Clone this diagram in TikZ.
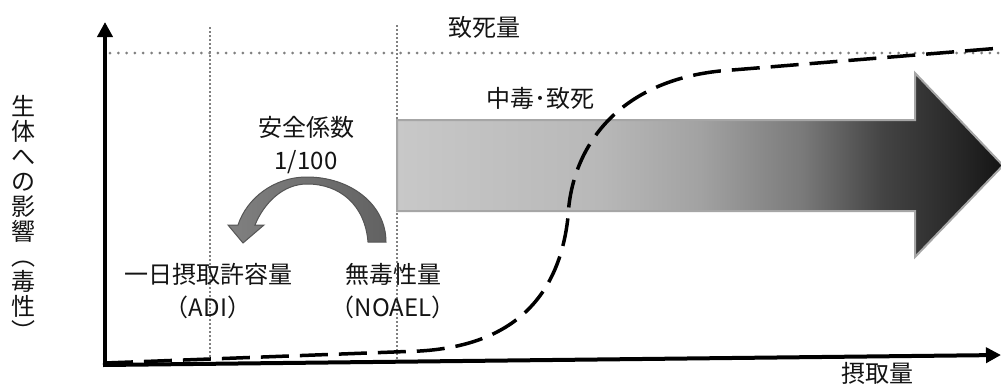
\documentclass[tikz,border=0pt]{standalone}
\usepackage{fontspec}
\setmainfont{Noto Sans CJK JP}
\usetikzlibrary{arrows.meta}
\definecolor{c0}{HTML}{C8C8C8}
\definecolor{c1}{HTML}{B8B8B8}
\definecolor{c2}{HTML}{A2A2A2}
\definecolor{c3}{HTML}{7A7A7A}
\definecolor{c4}{HTML}{444444}
\definecolor{c5}{HTML}{262626}
\definecolor{c6}{HTML}{141414}
\definecolor{dotgray}{HTML}{808080}
\definecolor{bordergray}{HTML}{A6A6A6}
\definecolor{arrL}{HTML}{808080}
\definecolor{arrR}{HTML}{626262}
\definecolor{arrD}{HTML}{555555}
\pgfdeclarehorizontalshading{bigarrowshade}{100bp}{color(0bp)=(c0); color(25bp)=(c0); color(41.8bp)=(c1); color(50bp)=(c2); color(58.4bp)=(c3); color(65bp)=(c4); color(71.6bp)=(c5); color(75bp)=(c6); color(100bp)=(c6)}
\tikzset{
  lbl/.style={font=\fontsize{24}{33}\selectfont, inner sep=0pt, align=center, text=black!92},
  vdots/.style={draw=dotgray, line width=1.6pt, dash pattern=on 1.6pt off 2.4pt},
  hdots/.style={draw=dotgray, line width=3pt, dash pattern=on 0pt off 8.3pt, line cap=round},
  axisline/.style={line width=4pt, -{Triangle[length=15pt,width=15pt]}},
  curve/.style={line width=3.5pt, dash pattern=on 28pt off 11pt},
  bigarrow/.style={draw=bordergray, line width=2pt, shading=bigarrowshade},
  bendarrow/.style={draw=arrD, line width=1pt, left color=arrL, right color=arrR},
}
\begin{document}
\begin{tikzpicture}[x=1pt, y=-1pt]
\clip (0,0) rectangle (1001,383);
\fill[white] (0,0) rectangle (1001,383);
% coordinates
\coordinate (o) at (105,365);
\coordinate (ytip) at (105,22);
\coordinate (xstart) at (103,365);
\coordinate (xtip) at (1001,355);
\coordinate (adiTop) at (210,27);
\coordinate (adiBot) at (210,362);
\coordinate (noaelTop) at (397,25);
\coordinate (noaelBot) at (397,362);
\coordinate (lethL) at (110,53);
\coordinate (lethR) at (1001,53);
% dotted guide lines
\draw[vdots] (adiTop) -- (adiBot);
\draw[vdots] (noaelTop) -- (noaelBot);
\draw[hdots] (lethL) -- (lethR);
% big gradient arrow
\path[bigarrow] (397,120) -- (915,120) -- (915,73) -- (1003,165.5) -- (915,257) -- (915,211) -- (397,211) -- cycle;
% bent arrow (safety factor)
\path[bendarrow] (386,242) .. controls (386,204) and (350,177) .. (307,177)
  .. controls (274,177) and (247,198) .. (238,225) -- (228,225) -- (243,243) -- (264,225) -- (255,225)
  .. controls (264,203) and (283,184) .. (307,184)
  .. controls (340,184) and (365,205) .. (368,242) -- cycle;
% dose-response curve
\coordinate (c0p) at (105,363);
\coordinate (c1p) at (420,351);
\coordinate (c2p) at (568,217);
\coordinate (c3p) at (720,71);
\coordinate (c4p) at (1001,48);
\draw[curve] (c0p) -- (c1p) .. controls (520,345) and (560,290) .. (c2p)
  .. controls (571,150) and (615,82) .. (c3p) -- (c4p);
% axes
\draw[axisline] (o) -- (ytip);
\draw[axisline] (xstart) -- (xtip);
% labels
\node[lbl] (lethal) at (484,27) {致死量};
\node[lbl] (toxic) at (540,98) {中毒･致死};
\node[lbl] (sf) at (306,145) {安全係数\\1/100};
\node[lbl] (adi) at (208,291.5) {一日摂取許容量\\（ADI）};
\node[lbl] (noael) at (393,291.5) {無毒性量\\（NOAEL）};
\node[lbl] (xlab) at (877,373) {摂取量};
\node[lbl, font=\fontsize{24}{25}\selectfont] (ylab) at (23,218) {生\\体\\へ\\の\\影\\響\\︵\\毒\\性\\︶};
\end{tikzpicture}
\end{document}
